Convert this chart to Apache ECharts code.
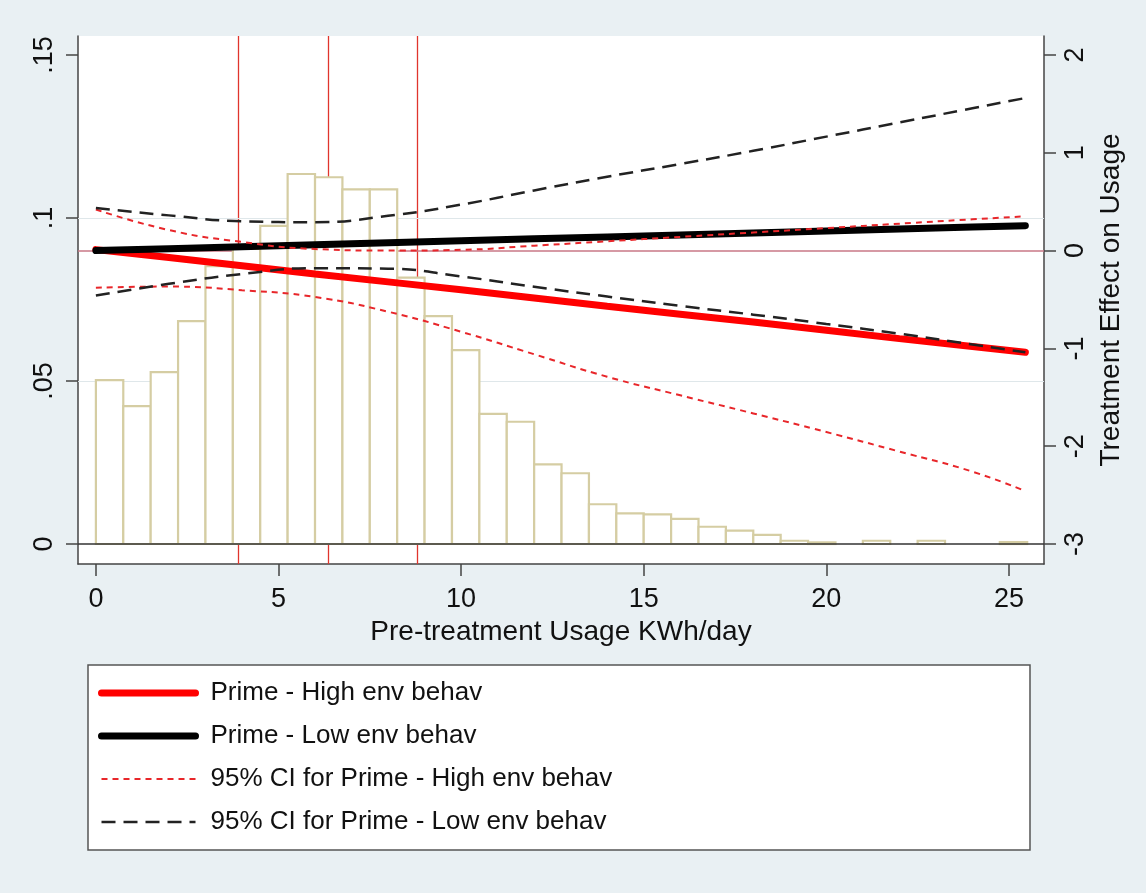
<!DOCTYPE html>
<html>
<head>
<meta charset="utf-8">
<title>Treatment effect by pre-treatment usage</title>
<script src="https://cdn.jsdelivr.net/npm/echarts@6/dist/echarts.min.js"></script>
<style>
  html, body { margin: 0; padding: 0; background: #e9f0f3; }
  #chart { width: 1146px; height: 893px; }
</style>
</head>
<body>
<div id="chart"></div>
<script>
// histogram of pre-treatment usage (density, left axis)
const binWidth = 0.75
const density = [0.0503, 0.0423, 0.0527, 0.0684, 0.0852, 0.0905, 0.0976, 0.1135, 0.1125, 0.1088,
  0.1088, 0.0817, 0.0699, 0.0595, 0.0399, 0.0375, 0.0244, 0.0217, 0.0122, 0.0094,
  0.0091, 0.0077, 0.0053, 0.0041, 0.0028, 0.0010, 0.0005, 0, 0.0010, 0,
  0.0010, 0, 0, 0.0006]

// treatment effect lines (right axis)
const usageX = [0, 2, 4, 6, 8, 10, 12, 14, 16, 18, 20, 22, 24, 25.45]
const highEffect = [0.01, -0.07, -0.155, -0.24, -0.32, -0.40, -0.485, -0.57, -0.65, -0.73, -0.815, -0.90, -0.98, -1.04]
const lowEffect = [0.0, 0.02, 0.04, 0.06, 0.08, 0.10, 0.12, 0.14, 0.16, 0.18, 0.20, 0.22, 0.24, 0.255]
const highUpper = [0.42, 0.21, 0.088, 0.016, 0.0, 0.008, 0.05, 0.095, 0.14, 0.185, 0.23, 0.275, 0.32, 0.35]
const highLower = [-0.38, -0.368, -0.405, -0.475, -0.625, -0.83, -1.06, -1.29, -1.48, -1.665, -1.855, -2.055, -2.26, -2.46]
const lowUpper = [0.436, 0.36, 0.30, 0.29, 0.355, 0.47, 0.615, 0.755, 0.885, 1.02, 1.165, 1.31, 1.455, 1.56]
const lowLower = [-0.46, -0.34, -0.24, -0.18, -0.185, -0.265, -0.37, -0.47, -0.565, -0.655, -0.75, -0.85, -0.96, -1.04]

// reference lines
const quartileLines = [3.89, 6.35, 8.79]
const gridLevels = [0.05, 0.1]

// tick labels
const xTicks = [0, 5, 10, 15, 20, 25]
const leftTickValues = [0, 0.05, 0.1, 0.15]
const leftTickLabels = ['0', '.05', '.1', '.15']
const rightTicks = [-3, -2, -1, 0, 1, 2]

const names = {
  high: 'Prime - High env behav',
  low: 'Prime - Low env behav',
  highCI: '95% CI for Prime - High env behav',
  lowCI: '95% CI for Prime - Low env behav'
}

const font = 'Liberation Sans, Arial, sans-serif'
const axisColor = '#444'
const barEdge = '#d5cda3'

function pairs (ys) {
  return usageX.map((x, i) => [x, ys[i]])
}

const histData = density.map((d, i) => [i * binWidth, (i + 1) * binWidth, d])

const axisLine = { show: true, onZero: false, lineStyle: { color: axisColor, width: 1.5 } }
const axisTickBase = { show: true, inside: false, length: 12, lineStyle: { color: axisColor, width: 1.5 } }

const chart = echarts.init(document.getElementById('chart'))

const option = {
  animation: false,
  backgroundColor: '#e9f0f3',
  textStyle: { fontFamily: font },
  grid: {
    left: 78,
    top: 36,
    right: 102,
    bottom: 329,
    show: true,
    backgroundColor: '#fff',
    borderWidth: 0
  },
  legend: {
    orient: 'vertical',
    left: 98,
    top: 678,
    padding: 0,
    itemWidth: 94,
    itemHeight: 14,
    itemGap: 13,
    selectedMode: false,
    itemStyle: { opacity: 0 },
    textStyle: { fontSize: 26, color: '#111', lineHeight: 30, padding: [0, 0, 0, 10], fontFamily: font },
    data: [
      { name: names.high, lineStyle: { width: 7, color: '#ff0000' } },
      { name: names.low, lineStyle: { width: 7, color: '#000' } },
      { name: names.highCI, lineStyle: { width: 2, color: '#e8262a', type: [6, 5] } },
      { name: names.lowCI, lineStyle: { width: 2.5, color: '#222', type: [14, 8] } }
    ]
  },
  graphic: [{
    type: 'rect',
    z: -1,
    shape: { x: 88, y: 665, width: 942, height: 185 },
    style: { fill: '#fff', stroke: '#555', lineWidth: 1.5 }
  }],
  xAxis: {
    type: 'value',
    min: -0.49,
    max: 25.96,
    name: 'Pre-treatment Usage KWh/day',
    nameLocation: 'middle',
    nameGap: 50,
    nameTextStyle: { fontSize: 28, color: '#111' },
    axisLine: axisLine,
    axisTick: Object.assign({}, axisTickBase, { customValues: xTicks }),
    axisLabel: { customValues: xTicks, fontSize: 27, color: '#111', margin: 22 },
    splitLine: { show: false }
  },
  yAxis: [
    {
      type: 'value',
      position: 'left',
      min: -0.00613,
      max: 0.15583,
      axisLine: axisLine,
      axisTick: Object.assign({}, axisTickBase, { customValues: leftTickValues }),
      axisLabel: {
        customValues: leftTickValues,
        rotate: 90,
        fontSize: 27,
        color: '#111',
        margin: 20,
        formatter: function (v) {
          const i = leftTickValues.findIndex(t => Math.abs(t - v) < 1e-9)
          return i >= 0 ? leftTickLabels[i] : ''
        }
      },
      splitLine: { show: false }
    },
    {
      type: 'value',
      position: 'right',
      min: -3.2045,
      max: 2.194,
      name: 'Treatment Effect on Usage',
      nameLocation: 'middle',
      nameGap: 46,
      nameTextStyle: { fontSize: 28, color: '#111' },
      axisLine: axisLine,
      axisTick: Object.assign({}, axisTickBase, { customValues: rightTicks }),
      axisLabel: { customValues: rightTicks, rotate: 90, fontSize: 27, color: '#111', margin: 18 },
      splitLine: { show: false }
    }
  ],
  series: [
    {
      // histogram, white bars with khaki outline
      type: 'custom',
      name: 'histogram',
      xAxisIndex: 0,
      yAxisIndex: 0,
      z: 2,
      silent: true,
      data: histData,
      encode: { x: [0, 1], y: 2 },
      renderItem: function (params, api) {
        if (!api.value(2)) return null
        const p0 = api.coord([api.value(0), api.value(2)])
        const p1 = api.coord([api.value(1), 0])
        return {
          type: 'rect',
          shape: { x: p0[0], y: p0[1], width: p1[0] - p0[0], height: p1[1] - p0[1] },
          style: { fill: '#fff', stroke: barEdge, lineWidth: 2.2 }
        }
      },
      markLine: {
        silent: true,
        z: 1,
        symbol: 'none',
        label: { show: false },
        data: quartileLines.map(v => ({ xAxis: v, lineStyle: { color: '#e0352d', width: 1.3, type: 'solid' } }))
          .concat(gridLevels.map(v => ({ yAxis: v, lineStyle: { color: '#dfe7ea', width: 1, type: 'solid' } })))
      }
    },
    {
      // baseline at zero density, above the bars
      type: 'line',
      name: 'baseline',
      yAxisIndex: 0,
      data: [],
      silent: true,
      markLine: {
        silent: true,
        z: 3,
        symbol: 'none',
        label: { show: false },
        data: [{ yAxis: 0, lineStyle: { color: '#333', width: 1.5, type: 'solid' } }]
      }
    },
    {
      type: 'line',
      name: names.high,
      yAxisIndex: 1,
      z: 4,
      symbol: 'none',
      data: pairs(highEffect),
      lineStyle: { color: '#ff0000', width: 7, cap: 'round' },
      itemStyle: { color: '#ff0000' },
      markLine: {
        silent: true,
        z: 1,
        symbol: 'none',
        label: { show: false },
        data: [{ yAxis: 0, lineStyle: { color: '#c97786', width: 1.5, type: 'solid' } }]
      }
    },
    {
      type: 'line',
      name: names.low,
      yAxisIndex: 1,
      z: 4,
      symbol: 'none',
      data: pairs(lowEffect),
      lineStyle: { color: '#000', width: 7, cap: 'round' },
      itemStyle: { color: '#000' }
    },
    {
      type: 'line',
      name: names.highCI,
      yAxisIndex: 1,
      z: 5,
      symbol: 'none',
      smooth: true,
      data: pairs(highUpper),
      lineStyle: { color: '#e8262a', width: 2, type: [6, 5] },
      itemStyle: { color: '#e8262a' }
    },
    {
      type: 'line',
      name: names.highCI,
      yAxisIndex: 1,
      z: 5,
      symbol: 'none',
      smooth: true,
      data: pairs(highLower),
      lineStyle: { color: '#e8262a', width: 2, type: [6, 5] },
      itemStyle: { color: '#e8262a' }
    },
    {
      type: 'line',
      name: names.lowCI,
      yAxisIndex: 1,
      z: 5,
      symbol: 'none',
      smooth: true,
      data: pairs(lowUpper),
      lineStyle: { color: '#222', width: 2.5, type: [14, 8] },
      itemStyle: { color: '#222' }
    },
    {
      type: 'line',
      name: names.lowCI,
      yAxisIndex: 1,
      z: 5,
      symbol: 'none',
      smooth: true,
      data: pairs(lowLower),
      lineStyle: { color: '#222', width: 2.5, type: [14, 8] },
      itemStyle: { color: '#222' }
    }
  ]
}

chart.setOption(option)
</script>
</body>
</html>
